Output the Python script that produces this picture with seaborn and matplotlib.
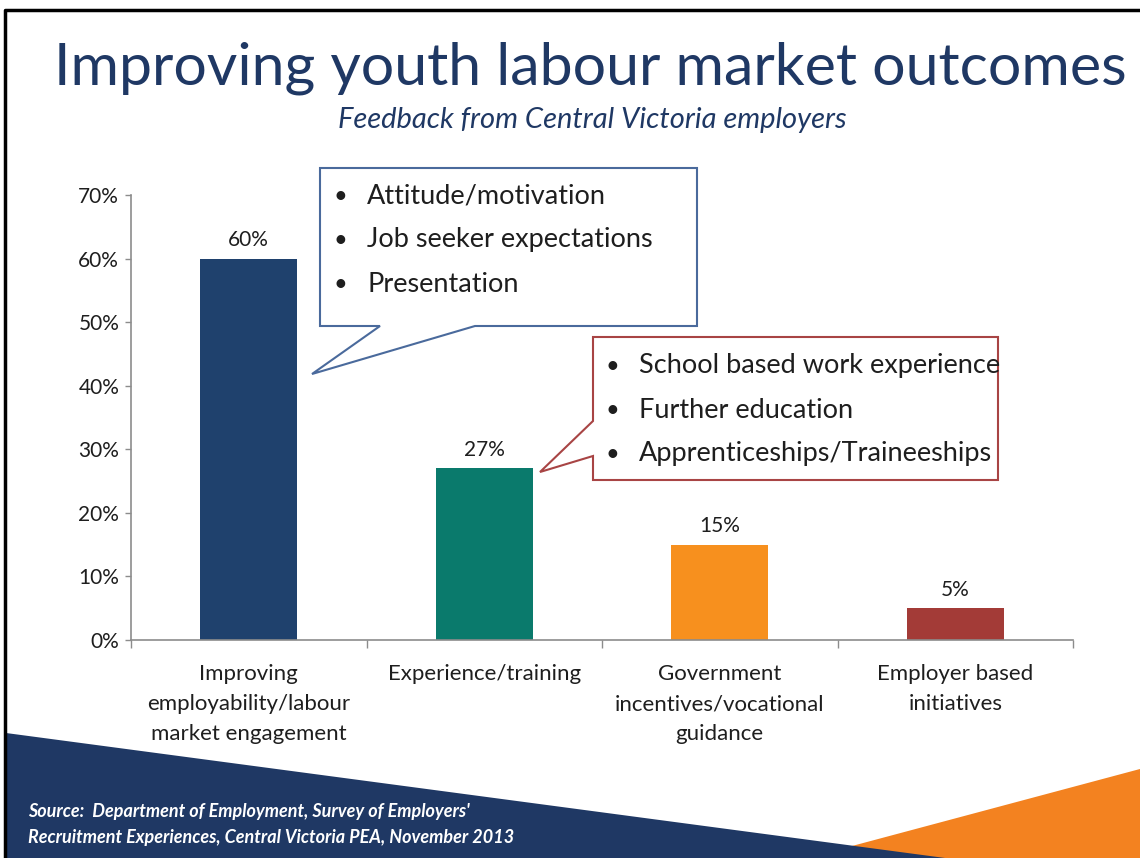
import matplotlib
matplotlib.use("Agg")
import matplotlib.pyplot as plt
from matplotlib.patches import Polygon
from matplotlib.ticker import PercentFormatter, FixedLocator, NullFormatter
import pandas as pd
import seaborn as sns

# data
categories = [
    "Improving\nemployability/labour\nmarket engagement",
    "Experience/training",
    "Government\nincentives/vocational\nguidance",
    "Employer based\ninitiatives",
]
shares = [0.60, 0.27, 0.15, 0.05]
bar_colors = ["#1F416D", "#0A7A6C", "#F7901E", "#A33B37"]
y_ticks = [0.0, 0.1, 0.2, 0.3, 0.4, 0.5, 0.6, 0.7]
blue_points = ["Attitude/motivation", "Job seeker expectations", "Presentation"]
red_points = ["School based work experience", "Further education", "Apprenticeships/Traineeships"]

TITLE = "Improving youth labour market outcomes"
SUBTITLE = "Feedback from Central Victoria employers"
SOURCE = ["Source:  Department of Employment, Survey of Employers'",
          "Recruitment Experiences, Central Victoria PEA, November 2013"]

NAVY = "#1F3864"
TEXT = "#1E1E1E"
AXIS = "#8C8C8C"

sns.set_theme(style="white")
plt.rcParams["font.family"] = ["Lato", "DejaVu Sans"]

W, H = 1140, 858
fig = plt.figure(figsize=(W / 100, H / 100), dpi=100, facecolor="white")

# chart area in pixel terms
left, right, top, bottom = 131, 1073, 195, 640
ax = fig.add_axes([left / W, 1 - bottom / H, (right - left) / W, (bottom - top) / H])

df = pd.DataFrame({"category": categories, "share": shares})
sns.barplot(data=df, x="category", y="share", hue="category", palette=bar_colors,
            legend=False, width=0.41, ax=ax, edgecolor="none", saturation=1)

for cont in ax.containers:
    ax.bar_label(cont, labels=[f"{v*100:.0f}%" for v in cont.datavalues],
                 padding=6, fontsize=15, color=TEXT)

ax.set_ylim(0, 0.7)
ax.set_xlim(-0.5, len(categories) - 0.5)
ax.yaxis.set_major_locator(FixedLocator(y_ticks))
ax.yaxis.set_major_formatter(PercentFormatter(1.0, decimals=0))
ax.tick_params(axis="y", direction="out", length=4.5, width=1, color=AXIS,
               labelsize=15, labelcolor=TEXT, pad=4, left=True)

# tick marks on category boundaries, labels at centres
ax.xaxis.set_major_locator(FixedLocator([i - 0.5 for i in range(len(categories) + 1)]))
ax.xaxis.set_major_formatter(NullFormatter())
ax.set_xticks(range(len(categories)), labels=categories, minor=True)
ax.tick_params(axis="x", which="major", direction="out", length=6, width=1, color=AXIS, bottom=True)
ax.tick_params(axis="x", which="minor", length=0, labelsize=16, labelcolor=TEXT, pad=17)
for lbl in ax.get_xticklabels(minor=True):
    lbl.set_linespacing(1.65)
    lbl.set_verticalalignment("top")

ax.set_xlabel("")
ax.set_ylabel("")
for s in ["top", "right"]:
    ax.spines[s].set_visible(False)
for s in ["left", "bottom"]:
    ax.spines[s].set_color(AXIS)
    ax.spines[s].set_linewidth(1.2)

# overlay in pixel coordinates for slide decoration
ov = fig.add_axes([0, 0, 1, 1], zorder=5)
ov.set_xlim(0, W)
ov.set_ylim(H, 0)
ov.axis("off")
ov.patch.set_alpha(0)

ov.add_patch(Polygon([(852, 846), (W, 769), (W, H), (852, H)], closed=True,
                     facecolor="#F38220", edgecolor="none"))
ov.add_patch(Polygon([(6, 733), (945, H), (6, H)], closed=True,
                     facecolor="#1F3864", edgecolor="none"))
ov.plot([5, 5, W], [H, 10, 10], color="black", lw=2.5, solid_capstyle="butt")

ov.text(590, 68, TITLE, ha="center", va="center", fontsize=42.5, color=NAVY)
ov.text(592, 120, SUBTITLE, ha="center", va="center", fontsize=21, color=NAVY,
        style="italic")

ov.text(28, 812, SOURCE[0], ha="left", va="center", fontsize=13, color="white",
        style="italic", weight="bold")
ov.text(28, 838, SOURCE[1], ha="left", va="center", fontsize=13, color="white",
        style="italic", weight="bold")

# callouts
ov.add_patch(Polygon([(320, 168), (697, 168), (697, 326), (475, 326), (312, 374),
                      (380, 326), (320, 326)], closed=True, facecolor="white",
                     edgecolor="#4A6A9C", lw=1.5))
for i, t in enumerate(blue_points):
    y = 196 + i * 44
    ov.text(334, y, "•", ha="left", va="center", fontsize=17, color=TEXT)
    ov.text(367, y, t, ha="left", va="center", fontsize=19.5, color=TEXT)

ov.add_patch(Polygon([(593, 337), (998, 337), (998, 480), (593, 480), (593, 456),
                      (540, 472), (593, 421)], closed=True, facecolor="white",
                     edgecolor="#A84444", lw=1.5))
for i, t in enumerate(red_points):
    y = 366 + i * 44
    ov.text(605, y, "•", ha="left", va="center", fontsize=17, color=TEXT)
    ov.text(639, y, t, ha="left", va="center", fontsize=19.5, color=TEXT)

fig.savefig("out.png", dpi=100, facecolor="white")
